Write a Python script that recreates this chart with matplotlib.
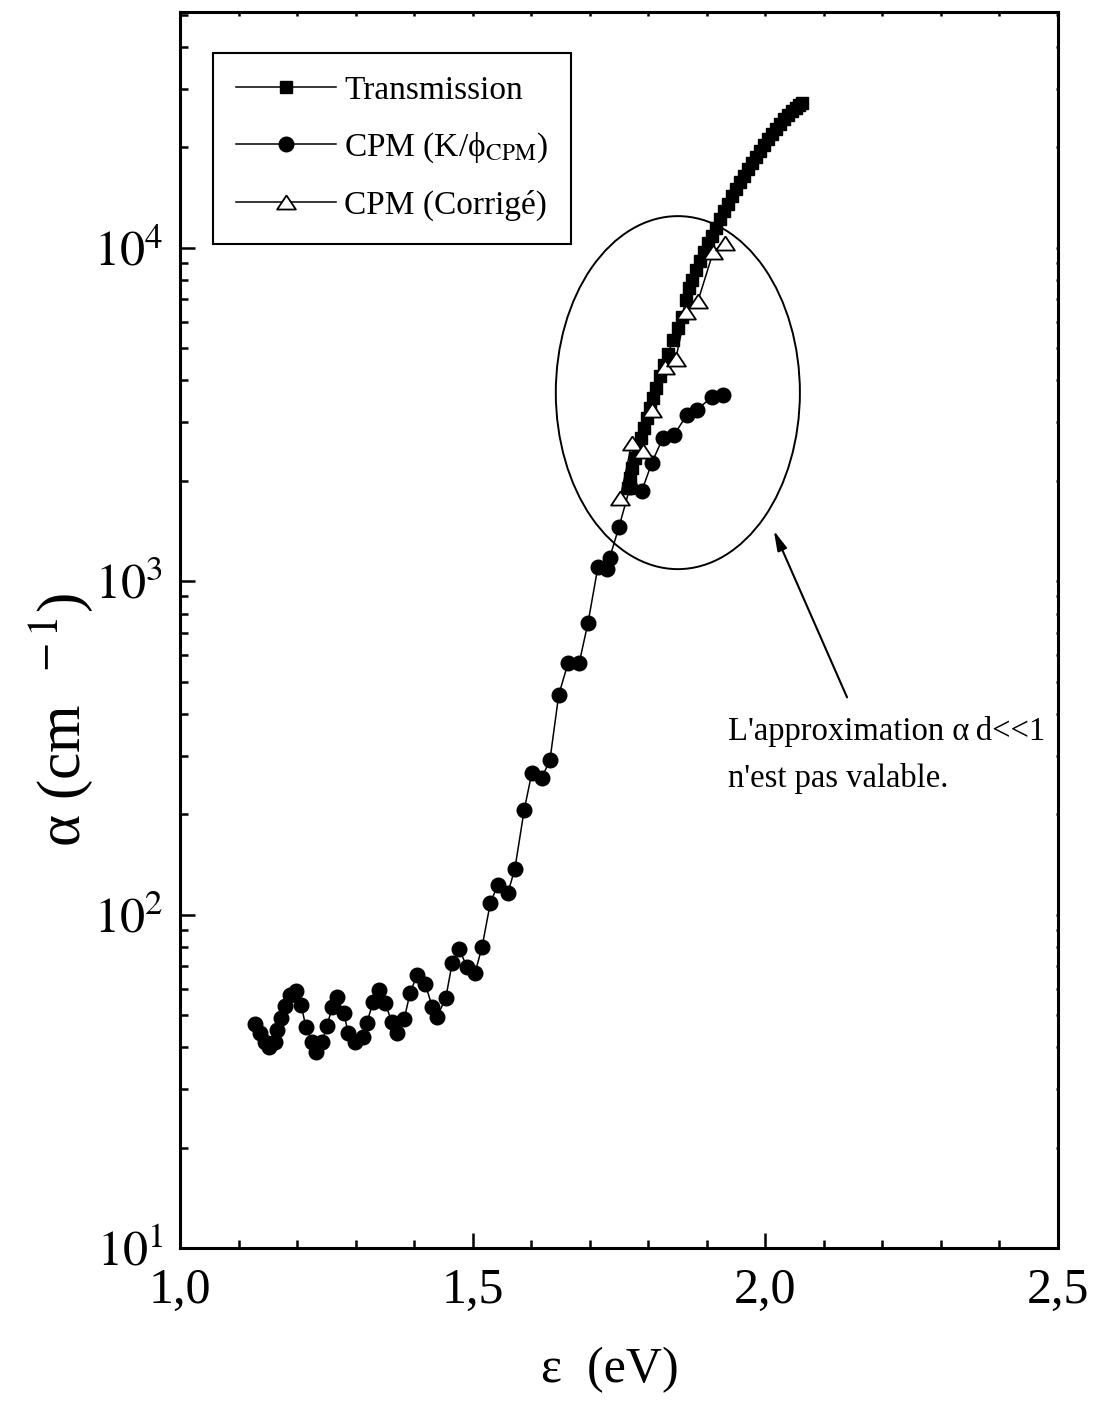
import matplotlib
matplotlib.use("Agg")
import matplotlib.pyplot as plt
from matplotlib.patches import Ellipse
from matplotlib.ticker import MultipleLocator, LogLocator, NullFormatter, FixedLocator

plt.rcParams["font.family"] = ["Liberation Serif", "DejaVu Serif"]
plt.rcParams["mathtext.fontset"] = "stix"

# Transmission (carres pleins)
e_trans = [1.765, 1.769, 1.772, 1.777, 1.782, 1.788, 1.793, 1.798, 1.803, 1.808,
           1.813, 1.820, 1.827, 1.834, 1.842, 1.851, 1.858, 1.864, 1.870, 1.875,
           1.882, 1.888, 1.895, 1.902, 1.909, 1.916, 1.923, 1.929, 1.936, 1.943,
           1.950, 1.957, 1.964, 1.970, 1.977, 1.984, 1.991, 1.998, 2.005, 2.011,
           2.018, 2.025, 2.032, 2.039, 2.046, 2.052, 2.058, 2.063]
a_trans = [1905, 2042, 2188, 2344, 2512, 2692, 2884, 3090, 3311, 3548,
           3802, 4130, 4457, 4808, 5297, 5754, 6209, 6982, 7586, 8017,
           8590, 9141, 9727, 10350, 10860, 11480, 12220, 12910, 13550, 14320,
           15030, 15780, 16440, 17260, 17990, 18750, 19540, 20370, 21230, 21980,
           22750, 23550, 24380, 25060, 25760, 26300, 26850, 27230]

# CPM (K/phi_CPM) (ronds pleins)
e_cpm = [1.128, 1.137, 1.145, 1.152, 1.162, 1.166, 1.173, 1.179, 1.188, 1.198,
         1.207, 1.215, 1.226, 1.232, 1.243, 1.251, 1.260, 1.268, 1.280, 1.287,
         1.299, 1.313, 1.319, 1.330, 1.340, 1.350, 1.362, 1.371, 1.383, 1.393,
         1.405, 1.419, 1.431, 1.439, 1.454, 1.465, 1.477, 1.490, 1.504, 1.516,
         1.530, 1.543, 1.560, 1.572, 1.588, 1.601, 1.618, 1.632, 1.647, 1.663,
         1.682, 1.697, 1.714, 1.729, 1.734, 1.750, 1.769, 1.789, 1.806, 1.825,
         1.844, 1.866, 1.883, 1.909, 1.928]
a_cpm = [47.0, 44.2, 41.5, 40.1, 41.5, 45.1, 49.0, 53.2, 57.4, 59.0,
         53.6, 46.0, 41.5, 38.7, 41.5, 46.3, 52.8, 56.6, 50.7, 44.2,
         41.5, 43.0, 47.3, 54.7, 59.4, 54.3, 47.7, 44.2, 48.6, 58.2,
         65.9, 61.9, 52.8, 49.3, 56.2, 71.6, 78.9, 69.7, 66.8, 80.0,
         108, 123, 116, 137, 206, 266, 257, 291, 456, 569,
         569, 750, 1104, 1085, 1175, 1456, 1919, 1867, 2264, 2692,
         2748, 3155, 3266, 3573, 3624]

# CPM corrige (triangles vides)
e_corr = [1.752, 1.772, 1.791, 1.806, 1.829, 1.847, 1.864, 1.885, 1.911, 1.931]
a_corr = [1778, 2602, 2460, 3266, 4395, 4645, 6427, 6934, 9727, 10350]

fig = plt.figure(figsize=(10.93, 14.03), dpi=100)
ax = fig.add_axes([0.1647, 0.1105, 0.8033, 0.881])

tri = [(0, 0.75), (-1, -0.75), (1, -0.75), (0, 0.75)]
ax.plot(e_trans, a_trans, "-", color="black", lw=1.1, marker="s", ms=9,
        mfc="black", mec="black", label="Transmission", zorder=3)
ax.plot(e_cpm, a_cpm, "-", color="black", lw=1.1, marker="o", ms=10.5,
        mfc="black", mec="black", label="CPM (K/ϕ$_{\\mathrm{CPM}}$)", zorder=4)
ax.plot(e_corr, a_corr, "-", color="black", lw=1.1, marker=tri, ms=13.5,
        mfc="white", mec="black", mew=1.3, label="CPM (Corrigé)", zorder=5)

ax.set_yscale("log")
ax.set_xlim(1.0, 2.5)
ax.set_ylim(10, 5.1e4)

ax.xaxis.set_major_locator(FixedLocator([1.0, 1.5, 2.0, 2.5]))
ax.xaxis.set_minor_locator(MultipleLocator(0.1))
ax.set_xticklabels(["1,0", "1,5", "2,0", "2,5"])
ax.yaxis.set_major_locator(FixedLocator([10, 100, 1000, 10000]))
ax.set_yticklabels([r"$10^1$", r"$10^2$", r"$10^3$", r"$10^4$"])
ax.yaxis.set_minor_locator(LogLocator(base=10, subs=range(2, 10)))
ax.yaxis.set_minor_formatter(NullFormatter())

for s in ax.spines.values():
    s.set_linewidth(2.2)
ax.tick_params(axis="both", which="major", direction="in", length=11, width=1.8,
               labelsize=36)
ax.tick_params(axis="both", which="minor", direction="in", length=6, width=1.8)
ax.tick_params(axis="x", which="both", top=True, pad=14)
ax.tick_params(axis="y", which="both", right=True, pad=12)
for t in ax.xaxis.get_ticklines(minor=False)[1::2] + ax.xaxis.get_ticklines(minor=True)[1::2]:
    t.set_markersize(3)
for t in ax.yaxis.get_ticklines(minor=False)[1::2] + ax.yaxis.get_ticklines(minor=True)[1::2]:
    t.set_markersize(1.5)

ax.set_xlabel("ε  (eV)", fontsize=36)
ax.set_ylabel("α (cm $^{\\ -1}$)", fontsize=44)
ax.xaxis.set_label_coords(0.49, -0.08)
ax.yaxis.set_label_coords(-0.097, 0.427)

leg = ax.legend(loc="upper left", bbox_to_anchor=(0.0376, 0.967), fontsize=24,
                frameon=True, fancybox=False, edgecolor="black", framealpha=1,
                handlelength=3.0, handletextpad=0.25, labelspacing=0.74,
                borderpad=0.68, markerscale=1.0, borderaxespad=0)
leg.get_frame().set_linewidth(1.5)

ax.add_patch(Ellipse((0.567, 0.692), 0.278, 0.2856, transform=ax.transAxes,
                     facecolor="none", edgecolor="black", lw=1.4, zorder=6))
ax.annotate("", xy=(0.675, 0.5825), xytext=(0.761, 0.4434),
            xycoords="axes fraction", textcoords="axes fraction",
            arrowprops=dict(arrowstyle="-|>,head_length=1.2,head_width=0.3",
                            color="black", lw=1.5))
ax.text(0.624, 0.399, "L'approximation α\u2009d<<1\nn'est pas valable.",
        transform=ax.transAxes, fontsize=23.5, ha="left", va="center",
        linespacing=1.65)

fig.savefig("out.png", dpi=100, facecolor="white")
